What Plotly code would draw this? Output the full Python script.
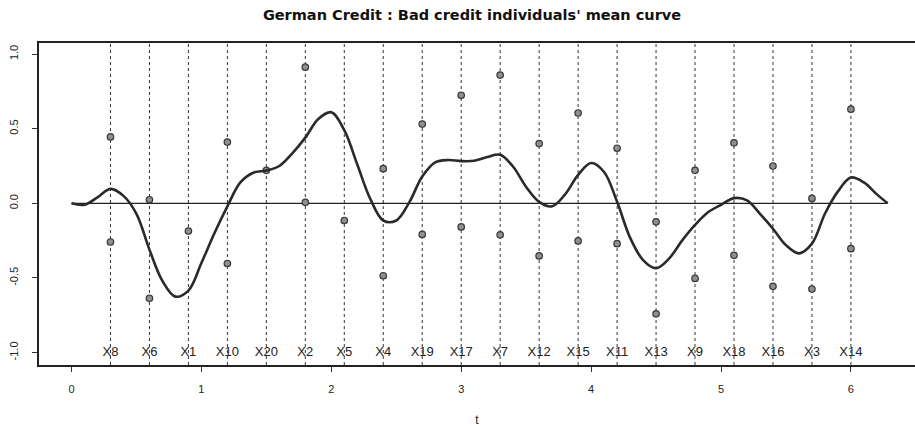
import math
import plotly.graph_objects as go

# Variables placed along t (one vertical guide per variable)
var_names = ["X8", "X6", "X1", "X10", "X20", "X2", "X5", "X4", "X19", "X17",
             "X7", "X12", "X15", "X11", "X13", "X9", "X18", "X16", "X3", "X14"]
var_t = [0.3, 0.6, 0.9, 1.2, 1.5, 1.8, 2.1, 2.4, 2.7, 3.0,
         3.3, 3.6, 3.9, 4.2, 4.5, 4.8, 5.1, 5.4, 5.7, 6.0]

# Category scores per variable (upper / lower; None where absent)
upper_vals = [0.445, 0.024, None, 0.41, 0.221, 0.912, None, 0.232, 0.531, 0.724,
              0.859, 0.40, 0.605, 0.369, -0.124, 0.221, 0.405, 0.25, 0.033, 0.631]
lower_vals = [-0.259, -0.636, -0.186, -0.403, None, 0.007, -0.115, -0.485, -0.208, -0.158,
              -0.211, -0.352, -0.252, -0.27, -0.74, -0.503, -0.348, -0.556, -0.574, -0.304]

# Mean curve of bad credit individuals
curve_t = [0.0, 0.1, 0.2, 0.3, 0.4, 0.5, 0.6, 0.7, 0.8, 0.9,
           1.0, 1.1, 1.2, 1.3, 1.4, 1.5, 1.6, 1.7, 1.8, 1.9,
           2.0, 2.1, 2.2, 2.3, 2.4, 2.5, 2.6, 2.7, 2.8, 2.9,
           3.0, 3.1, 3.2, 3.3, 3.4, 3.5, 3.6, 3.7, 3.8, 3.9,
           4.0, 4.1, 4.2, 4.3, 4.4, 4.5, 4.6, 4.7, 4.8, 4.9,
           5.0, 5.1, 5.2, 5.3, 5.4, 5.5, 5.6, 5.7, 5.8, 5.9,
           6.0, 6.1, 6.2, 2 * math.pi]
curve_v = [0.0, -0.01, 0.04, 0.097, 0.05, -0.07, -0.31, -0.52, -0.625, -0.585,
           -0.40, -0.20, -0.02, 0.14, 0.205, 0.22, 0.25, 0.335, 0.44, 0.565,
           0.61, 0.49, 0.26, 0.03, -0.115, -0.115, 0.006, 0.18, 0.275, 0.29,
           0.283, 0.285, 0.31, 0.325, 0.245, 0.11, 0.01, -0.02, 0.06, 0.19,
           0.27, 0.21, 0.01, -0.23, -0.38, -0.435, -0.37, -0.25, -0.145, -0.06,
           -0.01, 0.035, 0.02, -0.07, -0.17, -0.28, -0.335, -0.27, -0.07, 0.08,
           0.173, 0.14, 0.06, 0.0]

baseline_t = [0.0, 2 * math.pi]
baseline_v = [0.0, 0.0]

label_level = -1.0

x_ticks = [0, 1, 2, 3, 4, 5, 6]
y_ticks = [-1.0, -0.5, 0.0, 0.5, 1.0]
y_tick_text = ["-1.0", "-0.5", "0.0", "0.5", "1.0"]

FONT = "Liberation Sans, Arial, Helvetica, sans-serif"

fig = go.Figure()

# dotted vertical guides
for t in var_t:
    fig.add_vline(x=t, line=dict(color="#333333", width=1, dash="dot"), layer="below")

# zero baseline
fig.add_trace(go.Scatter(x=baseline_t, y=baseline_v, mode="lines",
                         line=dict(color="#222222", width=1.2), hoverinfo="skip"))

# category points
pt_x, pt_y = [], []
for t, u, l in zip(var_t, upper_vals, lower_vals):
    for v in (u, l):
        if v is not None:
            pt_x.append(t)
            pt_y.append(v)
fig.add_trace(go.Scatter(x=pt_x, y=pt_y, mode="markers",
                         marker=dict(symbol="circle", size=6.5, color="#8f8f8f",
                                     line=dict(color="#3a3a3a", width=1.2))))

# mean curve
fig.add_trace(go.Scatter(x=curve_t, y=curve_v, mode="lines",
                         line=dict(color="#2a2a2a", width=2.6, shape="spline", smoothing=1.0)))

# variable labels
fig.add_trace(go.Scatter(x=var_t, y=[label_level] * len(var_t), mode="text",
                         text=var_names, textposition="middle center",
                         textfont=dict(family=FONT, size=13, color="#222222")))

fig.update_layout(
    width=915, height=427,
    margin=dict(l=39, r=0, t=43, b=60),
    paper_bgcolor="white", plot_bgcolor="white",
    showlegend=False,
    font=dict(family=FONT, color="#222222"),
    title=dict(text="<b>German Credit : Bad credit individuals' mean curve</b>",
               x=472 / 915, xanchor="center", xref="container",
               y=1 - 15 / 427, yanchor="middle", yref="container",
               font=dict(family="DejaVu Sans, Arial, sans-serif", size=14.5, color="#111111")),
)

fig.update_xaxes(
    range=[-0.2502, 6.4934], tickvals=x_ticks, ticktext=[str(v) for v in x_ticks],
    ticks="outside", ticklen=5, tickcolor="#333333", ticklabelstandoff=8,
    showline=True, linecolor="#222222", linewidth=1.5, mirror=True,
    showgrid=False, zeroline=False,
    tickfont=dict(size=11, color="#222222"),
    title=dict(text="t", font=dict(size=12, color="#222222"), standoff=24),
)
fig.update_yaxes(
    range=[-1.083, 1.074], tickvals=y_ticks, ticktext=y_tick_text,
    ticks="outside", ticklen=5, tickcolor="#333333", tickangle=-90,
    ticklabelstandoff=10,
    showline=True, linecolor="#222222", linewidth=1.5,
    showgrid=False, zeroline=False,
    tickfont=dict(size=11, color="#222222"),
)

fig.write_html("out.html")
